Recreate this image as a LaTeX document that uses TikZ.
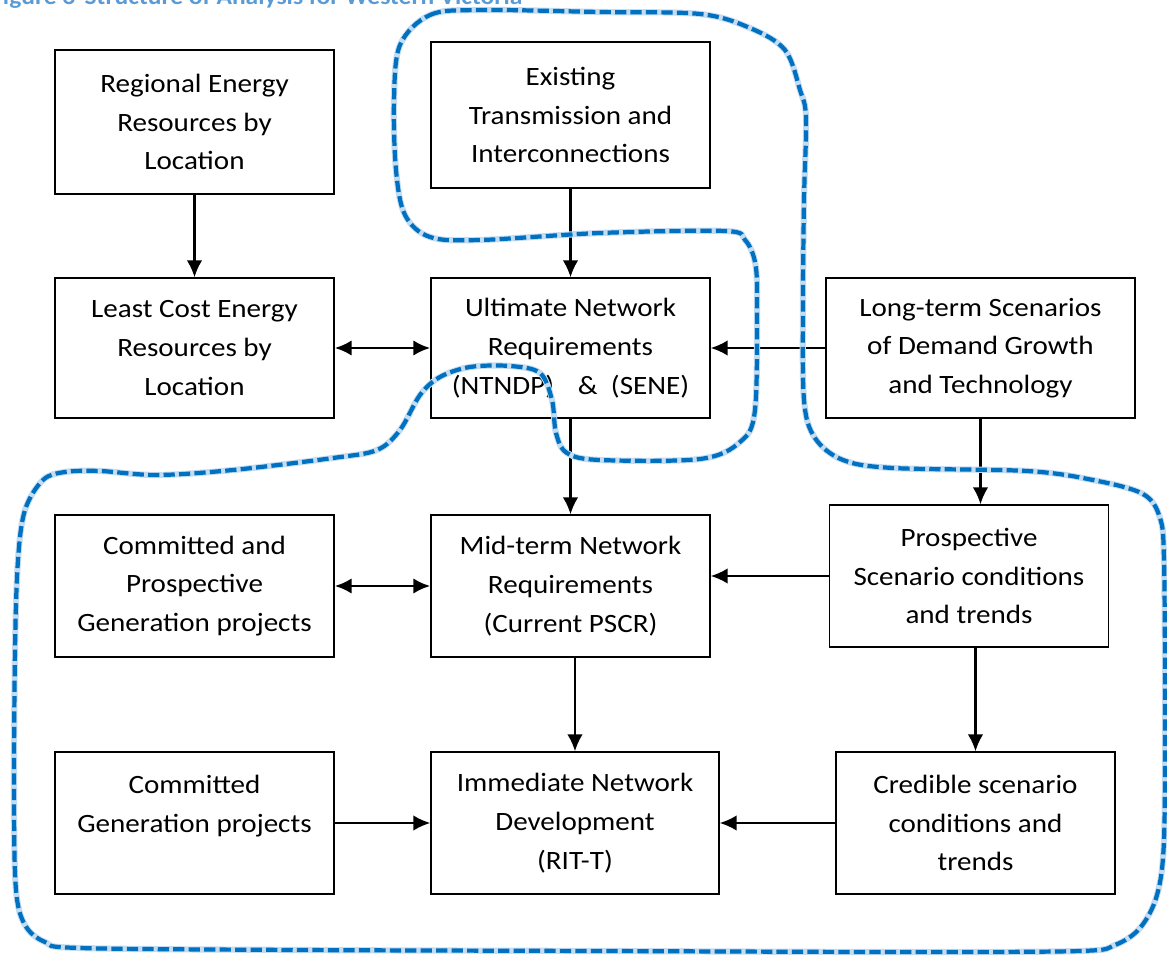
\documentclass[tikz,border=0pt]{standalone}
\usepackage{fontspec}
\setmainfont{Carlito}[FakeStretch=1.1]
\usetikzlibrary{arrows.meta}

\definecolor{loopblue}{HTML}{0070C0}
\definecolor{halo}{HTML}{C3DCF2}
\definecolor{capblue}{HTML}{5B9BD5}

\tikzset{
  box/.style={draw, line width=1pt, align=center, minimum width=6.975cm, minimum height=3.55cm,
    font=\fontsize{18.8}{27.5}\selectfont},
  arr/.style={line width=1.5pt, -{Latex[length=12pt,width=11pt]}},
  biarr/.style={line width=2pt, {Latex[length=12pt,width=11pt]}-{Latex[length=12pt,width=11pt]}},
  bound/.style={loopblue, line width=3pt, dash pattern=on 8pt off 3pt,
    preaction={draw=halo, line width=4.4pt, solid}}
}

\begin{document}
\begin{tikzpicture}[x=0.025cm, y=-0.025cm]
        \useasboundingbox (0,0) rectangle (1167,958);

        \node[anchor=base west, inner sep=0, text=capblue, font=\fontsize{16.5}{19}\bfseries] (TTL) at (-9,5)
          {Figure 3\hspace{0.4em}Structure of Analysis for Western Victoria};

        \node[box, minimum height=3.6cm] (RER) at (194.5,122) {Regional Energy\\Resources by\\Location};
        \node[box, minimum height=3.65cm] (ETI) at (570.5,115) {Existing\\Transmission and\\Interconnections};

        \node[box, minimum height=3.5cm] (LCE) at (194.5,348) {Least Cost Energy\\Resources by\\Location};
        \node[box, minimum height=3.5cm] (UNR) at (570.5,348) {Ultimate Network\\Requirements\\(NTNDP)\hspace{0.9em}\&\hspace{0.5em}(SENE)};
        \node[box, minimum height=3.5cm, minimum width=7.725cm] (LTS) at (980.5,348) {Long-term Scenarios\\of Demand Growth\\and Technology};

        \node[box] (CPG) at (194.5,586) {Committed and\\Prospective\\Generation projects};
        \node[box] (MNR) at (570.5,586) {Mid-term Network\\Requirements\\(Current PSCR)};
        \node[box] (PSC) at (969,576) {Prospective\\Scenario conditions\\and trends};

        \node[box] (CGP) at (194.5,823) {Committed\\Generation projects\\\mbox{}};
        \node[box, minimum width=7.2cm] (IND) at (575,823) {Immediate Network\\Development\\(RIT-T)};
        \node[box] (CSC) at (975.5,823) {Credible scenario\\conditions and\\trends};

        \draw[arr] (RER) -- (LCE);
        \draw[arr] (ETI) -- (UNR);
        \draw[biarr] (LCE) -- (UNR);
        \draw[arr] (LTS) -- (UNR);
        \draw[arr] (UNR) -- (MNR);
        \draw[arr] (LTS) -- (LTS |- PSC.north);
        \draw[biarr] (CPG) -- (MNR);
        \draw[arr] (PSC) -- (PSC -| MNR.east);
        \draw[arr] (IND |- MNR.south) -- (IND);
        \draw[arr] (CSC |- PSC.south) -- (CSC);
        \draw[arr] (CGP) -- (IND);
        \draw[arr] (CSC) -- (IND);

        % dashed boundary round the western victoria part
        \draw[bound] plot[smooth cycle, tension=0.55] coordinates {
          (400,45) (430,15) (480,10) (600,12) (700,14) (750,28) (785,50) (800,90) (806,118)
          (804,200) (803,300) (804,400) (815,438) (843,460) (893,468) (1027,471) (1093,480)
          (1143,494) (1160,518) (1164,560) (1165,700) (1164,840) (1157,895) (1140,928)
          (1115,945) (1080,951) (900,952) (600,951) (300,950) (80,948) (45,942) (25,925)
          (16,890) (14,800) (15,650) (18,560) (25,510) (43,480) (65,472)
          (100,471) (157,475) (233,470) (333,458) (377,450) (400,430) (420,395) (440,377)
          (470,367) (510,366) (540,373) (552,400) (556,433) (567,453) (600,460) (700,459)
          (740,442) (755,410) (757,300) (755,262) (745,240) (725,231) (600,233) (480,240)
          (430,237) (405,215) (396,170) (394,100)};
      \end{tikzpicture}
\end{document}
